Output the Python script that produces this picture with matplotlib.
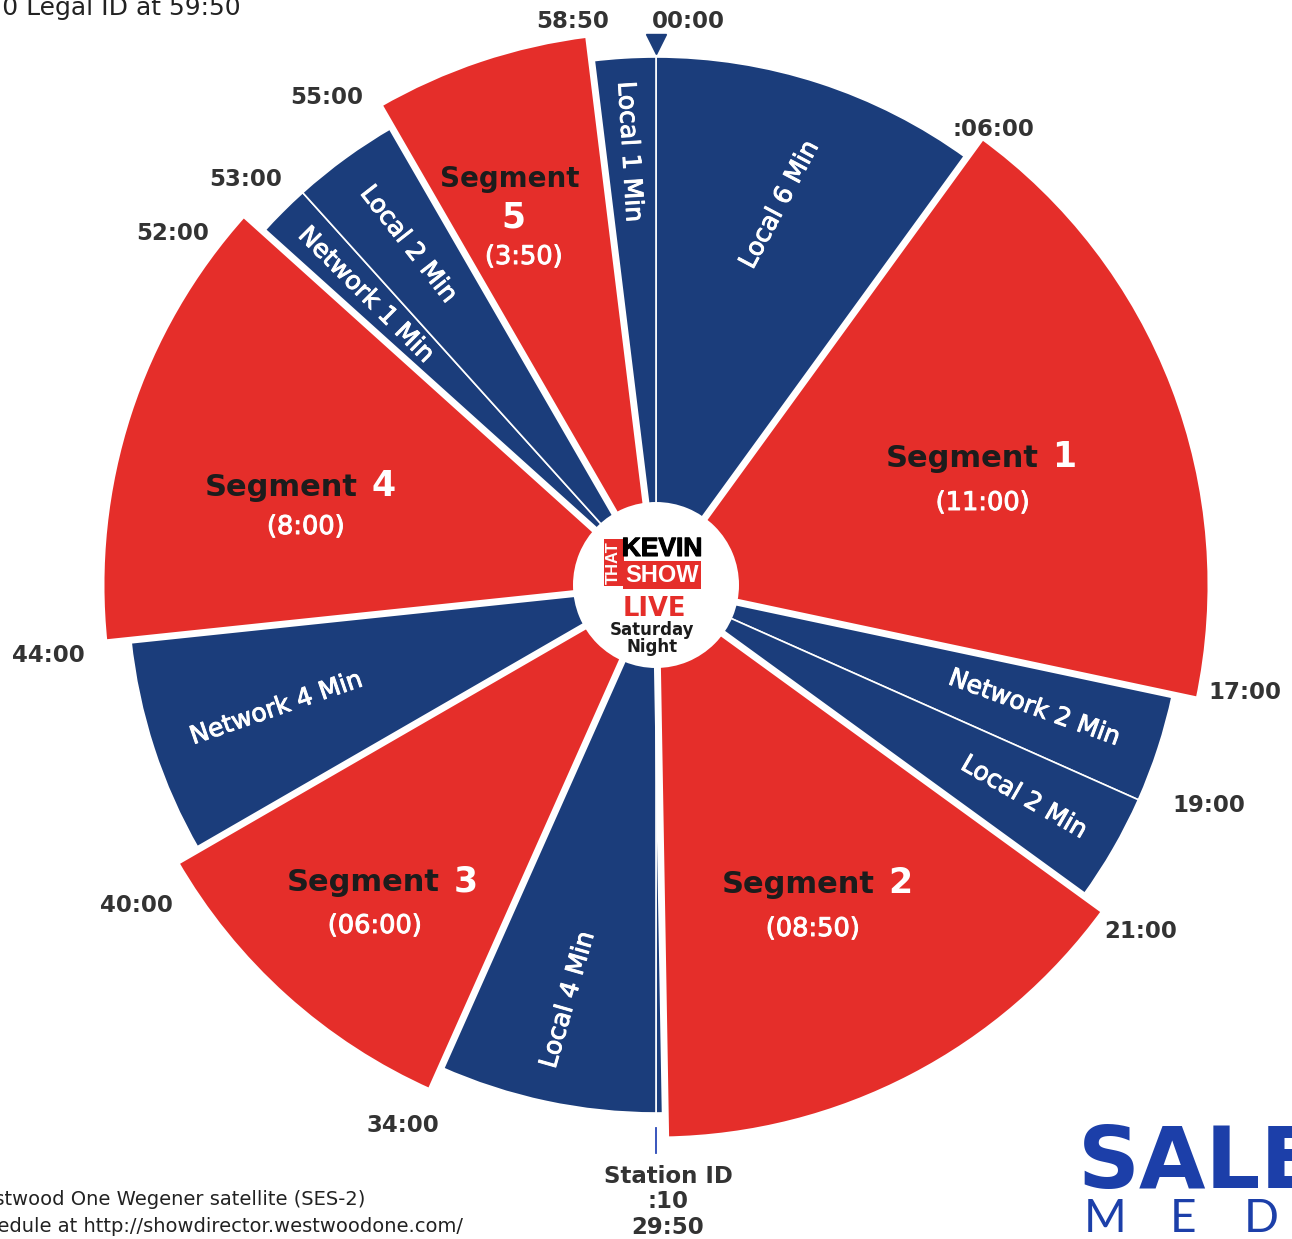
import numpy as np
import matplotlib
matplotlib.use("Agg")
import matplotlib.pyplot as plt
import matplotlib.patheffects as pe

# ---------------- data ----------------
segment_names = ["Local 6 Min", "Segment 1", "Network 2 Min", "Local 2 Min", "Segment 2",
                 "Station ID", "Local 4 Min", "Segment 3", "Network 4 Min", "Segment 4",
                 "Network 1 Min", "Local 2 Min", "Segment 5", "Local 1 Min"]
durations_sec = [360, 660, 120, 120, 530, 10, 240, 360, 240, 480, 60, 120, 230, 70]
is_segment = [False, True, False, False, True, False, False, True, False, True,
              False, False, True, False]

seg_numbers = ["1", "2", "3", "4", "5"]
seg_lengths = ["(11:00)", "(08:50)", "(06:00)", "(8:00)", "(3:50)"]

# blue wedges that carry a label (index into segment_names) and the label text
blue_label_idx = [0, 2, 3, 6, 8, 10, 11, 13]
blue_labels = ["Local 6 Min", "Network 2 Min", "Local 2 Min", "Local 4 Min",
               "Network 4 Min", "Network 1 Min", "Local 2 Min", "Local 1 Min"]

time_labels = ["00:00", ":06:00", "17:00", "19:00", "21:00", "34:00", "40:00",
               "44:00", "52:00", "53:00", "55:00", "58:50"]
station_label = "Station ID\n:10\n29:50"

title_text = "Local 1 Min includes :10 Legal ID at 59:50"
foot_lines = ["Available on the Westwood One Wegener satellite (SES-2)",
              "Check the schedule at http://showdirector.westwoodone.com/"]

# ---------------- layout / style ----------------
W, H = 1292, 1239
CX, CY = 656, 585
RMAX = 600
R_BLUE = 528
R_RED = 555
R_HUB = 83
BLUE = "#1b3d7b"
RED = "#e52e2a"
DARK = "#333333"
INK = "#1c1c1c"
THICK_WHITE = [pe.withStroke(linewidth=0.7, foreground="white")]

def fx(x):
    return x / W

def fy(y):
    return 1 - y / H

fig = plt.figure(figsize=(W / 100, H / 100), dpi=100)
fig.patch.set_facecolor("white")

ax = fig.add_axes([(CX - RMAX) / W, (H - CY - RMAX) / H, 2 * RMAX / W, 2 * RMAX / H],
                  projection="polar")
ax.set_theta_zero_location("N")
ax.set_theta_direction(-1)
ax.set_rlim(0, RMAX)
ax.axis("off")

dur = np.array(durations_sec, dtype=float)
starts = np.concatenate([[0], np.cumsum(dur)[:-1]])
theta0 = starts / 3600 * 2 * np.pi
width = dur / 3600 * 2 * np.pi
mid = theta0 + width / 2
red = np.array(is_segment)

# blue wedges (thin separators)
ax.bar(theta0[~red], R_BLUE, width=width[~red], bottom=0, align="edge",
       color=BLUE, edgecolor="white", linewidth=1.2, zorder=2)
# red wedges (wider white gaps)
ax.bar(theta0[red], R_RED, width=width[red], bottom=0, align="edge",
       color=RED, edgecolor="white", linewidth=5, zorder=3)
# hub
ax.bar(0, R_HUB, width=2 * np.pi, bottom=0, color="white", edgecolor="none", zorder=5)

# marker at 00:00 and station ID tick at 30:00
ax.plot([0], [541], marker="v", markersize=14, color=BLUE, clip_on=False, zorder=6)
t30 = starts[6] / 3600 * 2 * np.pi
ax.plot([t30, t30], [543, 568], color="#2a48b8", lw=1.3, clip_on=False, zorder=6)

# ---------------- time labels ----------------
time_pos = [(688, 21), (993, 129), (1245, 693), (1209, 806), (1141, 932), (403, 1125),
            (136, 905), (48, 655), (173, 233), (246, 180), (327, 98), (573, 21)]
for lab, (x, y) in zip(time_labels, time_pos):
    fig.text(fx(x), fy(y), lab, ha="center", va="center", fontsize=16.5,
             fontweight="bold", color=DARK)
fig.text(fx(668), fy(1202), station_label, ha="center", va="center", fontsize=16.5,
         fontweight="bold", color=DARK, linespacing=1.12)

# ---------------- blue labels (along each wedge's middle) ----------------
blue_r = [400, 398, 425, 424, 399, 410, 421, 434]
blue_rot = [62, -20, -30, 74, 19, -45, -52, -86.5]
for idx, lab, r, rot in zip(blue_label_idx, blue_labels, blue_r, blue_rot):
    ax.text(mid[idx], r, lab, ha="center", va="center", rotation=rot,
            rotation_mode="anchor", fontsize=18, color="white", zorder=10,
            path_effects=THICK_WHITE)

# ---------------- red labels ----------------
seg_group = [(981, 467), (817, 893), (382, 891), (300, 496)]
seg_len_pos = [(983, 503), (813, 929), (375, 926), (306, 527), (524, 257)]
fig.canvas.draw()
renderer = fig.canvas.get_renderer()
gap = 14
for i in range(4):
    gx, gy = seg_group[i]
    t1 = fig.text(0, fy(gy), "Segment", ha="left", va="baseline", fontsize=22,
                  fontweight="bold", color=INK, zorder=10)
    t2 = fig.text(0, fy(gy), seg_numbers[i], ha="left", va="baseline", fontsize=25,
                  fontweight="bold", color="white", zorder=10)
    w1 = t1.get_window_extent(renderer).width
    w2 = t2.get_window_extent(renderer).width
    x0 = gx - (w1 + gap + w2) / 2
    t1.set_x(fx(x0))
    t2.set_x(fx(x0 + w1 + gap))
# segment 5: stacked
fig.text(fx(510), fy(187), "Segment", ha="center", va="baseline", fontsize=20,
         fontweight="bold", color=INK, zorder=10)
fig.text(fx(513), fy(228), seg_numbers[4], ha="center", va="baseline", fontsize=25,
         fontweight="bold", color="white", zorder=10)
for i in range(5):
    lx, ly = seg_len_pos[i]
    fig.text(fx(lx), fy(ly), seg_lengths[i], ha="center", va="center", fontsize=18.5,
             color="white", zorder=10, path_effects=THICK_WHITE)

# ---------------- center logo ----------------
fig.text(fx(613.5), fy(562.5), "THAT", rotation=90, ha="center", va="center",
         fontsize=12, fontweight="bold", color="white", family="Liberation Sans",
         bbox=dict(boxstyle="square,pad=0.15", facecolor=RED, edgecolor="none"), zorder=12)
fig.text(fx(662), fy(549), "KEVIN", ha="center", va="center", fontsize=19,
         fontweight="bold", color="black", family="Liberation Sans", zorder=12,
         path_effects=[pe.withStroke(linewidth=0.8, foreground="black")])
fig.text(fx(662), fy(575), "SHOW", ha="center", va="center", fontsize=17,
         fontweight="bold", color="white", family="Liberation Sans",
         bbox=dict(boxstyle="square,pad=0.1", facecolor=RED, edgecolor="none"), zorder=12)
fig.text(fx(654), fy(609), "LIVE", ha="center", va="center", fontsize=18.5,
         fontweight="bold", color=RED, zorder=12)
fig.text(fx(652), fy(630), "Saturday", ha="center", va="center", fontsize=12,
         fontweight="bold", color=INK, zorder=12)
fig.text(fx(652), fy(647), "Night", ha="center", va="center", fontsize=12,
         fontweight="bold", color=INK, zorder=12)

# ---------------- title and footnotes ----------------
fig.text(fx(241), fy(15), title_text, ha="right", va="baseline", fontsize=18,
         color="#222222")
fig.text(fx(365), fy(1205), foot_lines[0], ha="right", va="baseline", fontsize=14,
         color="#222222")
fig.text(fx(463), fy(1232), foot_lines[1], ha="right", va="baseline", fontsize=14,
         color="#222222")

# ---------------- Salem Media logo ----------------
SALEM_BLUE = "#1c3fa9"
fig.text(fx(1078), fy(1188), "SALEM", ha="left", va="baseline", fontsize=62,
         fontweight="bold", color=SALEM_BLUE)
for i, ch in enumerate("MEDIA"):
    fig.text(fx(1105 + 78 * i), fy(1232), ch, ha="center", va="baseline",
             fontsize=33, family="Lato", color=SALEM_BLUE)

fig.savefig("out.png", dpi=100, facecolor="white")
